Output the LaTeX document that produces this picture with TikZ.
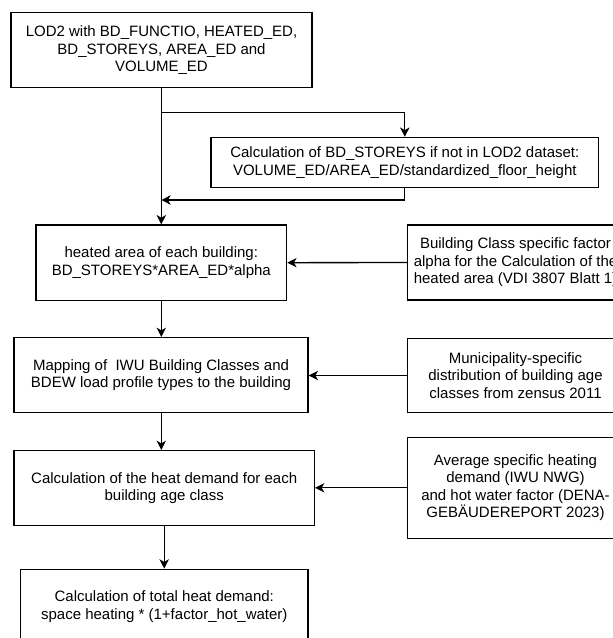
\documentclass[tikz,border=0pt]{standalone}
\usepackage{fontspec}
\setmainfont{Liberation Sans}
\usetikzlibrary{arrows.meta}

\begin{document}
\begin{tikzpicture}[
  x=0.75pt, y=-0.75pt,
  box/.style={draw=black, line width=1pt, fill=white, align=center,
              inner sep=0pt, font=\fontsize{11.25pt}{13.1pt}\selectfont},
  arr/.style={draw=black, line width=1pt,
              -{Stealth[length=7pt, width=7pt, inset=2pt]}},
  link/.style={draw=black, line width=1pt}
]
% canvas
\fill[white] (0,0) rectangle (613,638);
\useasboundingbox (0,0) rectangle (613,638);
\clip (0,0) rectangle (613,638);

% main column
\node[box, minimum width=225.75pt, minimum height=56.25pt] (lod) at (161.5,50.2)
  {LOD2 with BD\_FUNCTIO, HEATED\_ED,\\BD\_STOREYS, AREA\_ED and\\VOLUME\_ED};
\node[box, minimum width=290.7pt, minimum height=37.65pt] (storeys) at (404.8,162.6)
  {Calculation of BD\_STOREYS if not in LOD2 dataset:\\VOLUME\_ED/AREA\_ED/standardized\_floor\_height};
\node[box, minimum width=187.9pt, minimum height=56.5pt] (area) at (161.3,262.7)
  {heated area of each building:\\BD\_STOREYS*AREA\_ED*alpha};
\node[box, minimum width=220.5pt, minimum height=56.25pt] (mapping) at (161,375.2)
  {Mapping of\ \ IWU Building Classes and\\BDEW load profile types to the building};
\node[box, minimum width=225.2pt, minimum height=56.25pt] (demand) at (164.2,488.2)
  {Calculation of the heat demand for each\\building age class};
\node[box, minimum width=215.5pt, minimum height=56.25pt] (total) at (164.3,606.8)
  {Calculation of total heat demand:\\space heating * (1+factor\_hot\_water)};

% input column
\node[box, minimum width=161.7pt, minimum height=56.25pt] (alpha) at (515.5,262.5)
  {Building Class specific factor\\alpha for the Calculation of the\\heated area (VDI 3807 Blatt 1)};
\node[box, minimum width=161.7pt, minimum height=55.8pt] (zensus) at (515.5,375.5)
  {Municipality-specific\\distribution of building age\\classes from zensus 2011};
\node[box, minimum width=161.7pt, minimum height=75.75pt] (iwu) at (515.5,487.8)
  {Average specific heating\\demand (IWU NWG)\\and hot water factor (DENA-\\GEB\"AUDEREPORT 2023)};

% junctions
\coordinate (split) at (161.3,112.7);
\coordinate (merge) at (161.3,200);
\coordinate (back)  at (404.8,200);

% connectors
\draw[arr] (lod.south -| split) -- (area.north);
\draw[arr] (split) -| (storeys.north);
\draw[link] (storeys.south) -- (back);
\draw[arr] (back) -- (merge);
\draw[arr] (alpha.west) -- (area.east);
\draw[arr] (area.south) -- (mapping.north -| area.south);
\draw[arr] (zensus.west) -- (mapping.east |- zensus.west);
\draw[arr] (mapping.south -| area.south) -- (demand.north -| area.south);
\draw[arr] (iwu.west) -- (demand.east |- iwu.west);
\draw[arr] (demand.south) -- (total.north -| demand.south);
\end{tikzpicture}
\end{document}
